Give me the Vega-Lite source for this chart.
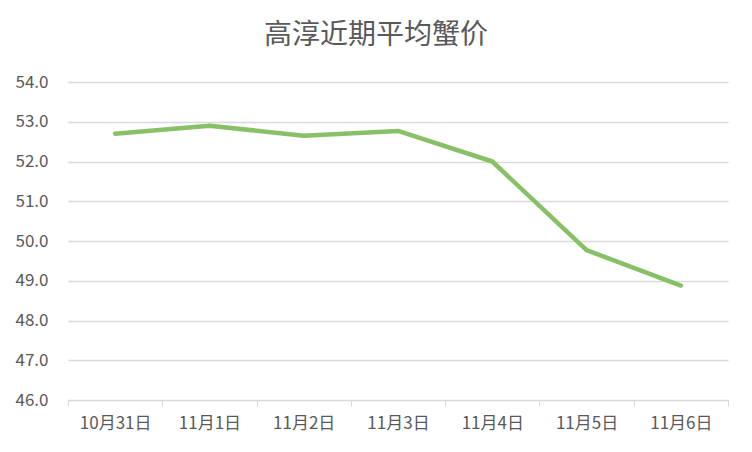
{
  "$schema": "https://vega.github.io/schema/vega-lite/v6.json",
  "width": 660,
  "height": 318,
  "autosize": {"type": "none"},
  "padding": {"left": 68, "top": 82, "right": 24, "bottom": 52},
  "background": "white",
  "title": {
    "text": "高淳近期平均蟹价",
    "font": "Noto Sans CJK SC",
    "fontSize": 28,
    "fontWeight": "normal",
    "color": "#595959",
    "anchor": "middle",
    "dx": -22,
    "offset": 23
  },
  "data": {
    "values": [
      {"date": "10月31日", "price": 52.70},
      {"date": "11月1日", "price": 52.90},
      {"date": "11月2日", "price": 52.65},
      {"date": "11月3日", "price": 52.77},
      {"date": "11月4日", "price": 52.00},
      {"date": "11月5日", "price": 49.77},
      {"date": "11月6日", "price": 48.88}
    ]
  },
  "config": {
    "view": {"stroke": null},
    "axis": {
      "labelFont": "Noto Sans CJK SC",
      "labelFontSize": 17,
      "labelColor": "#595959",
      "titleFont": "Noto Sans CJK SC"
    }
  },
  "mark": {"type": "line", "color": "#88c067", "strokeWidth": 4.5, "strokeCap": "round", "strokeJoin": "round"},
  "encoding": {
    "x": {
      "field": "date",
      "type": "ordinal",
      "sort": null,
      "title": null,
      "scale": {"type": "band", "paddingInner": 0, "paddingOuter": 0},
      "axis": {
        "labelAngle": 0,
        "domainColor": "#d9d9d9",
        "domainWidth": 1,
        "tickColor": "#d9d9d9",
        "tickBand": "extent",
        "tickSize": 6,
        "labelPadding": 9,
        "grid": false
      }
    },
    "y": {
      "field": "price",
      "type": "quantitative",
      "title": null,
      "scale": {"domain": [46, 54], "zero": false, "nice": false},
      "axis": {
        "values": [46, 47, 48, 49, 50, 51, 52, 53, 54],
        "format": ".1f",
        "domain": false,
        "ticks": false,
        "labelPadding": 20,
        "gridColor": "#d9d9d9",
        "gridWidth": 1.3
      }
    }
  }
}
